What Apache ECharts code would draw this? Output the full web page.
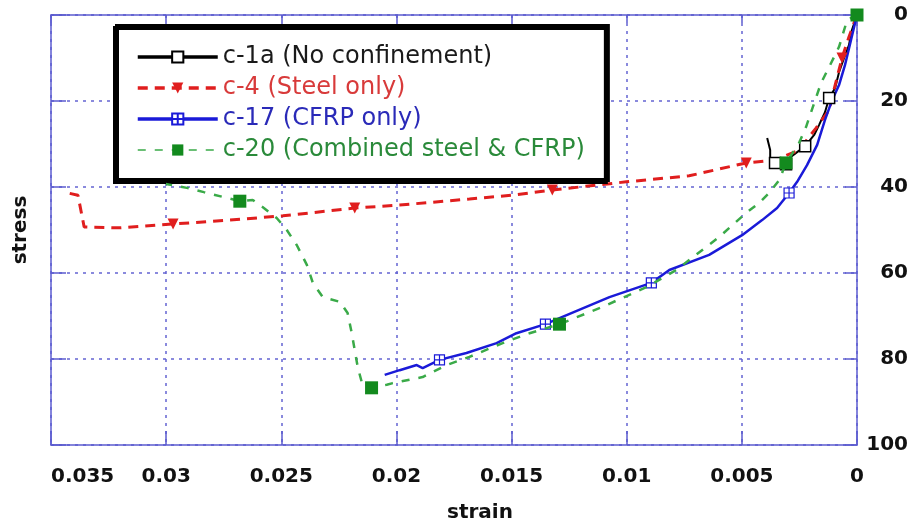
<!DOCTYPE html>
<html>
<head>
    <meta charset="UTF-8">
    <title>stress - strain</title>
    <script src="https://cdn.jsdelivr.net/npm/echarts@6/dist/echarts.min.js"></script>
    <style>
        body { margin: 0; background: #fff; }
        #chart { width: 924px; height: 525px; }
    </style>
</head>
<body>
<div id="chart"></div>
<script>
    // values (strain, stress); marks = indices that carry a symbol
    var c1aStrain = [0, 0.00022, 0.00035, 0.00056, 0.00078, 0.00095, 0.00121, 0.00139, 0.00165, 0.00186, 0.00225, 0.00260, 0.00295, 0.00308, 0.00356, 0.00377, 0.00377, 0.00390];
    var c1aStress = [0, 3.5, 7.0, 10.0, 13.3, 17.0, 19.3, 22.6, 25.6, 27.9, 30.5, 31.9, 33.3, 34.7, 34.4, 33.7, 31.4, 28.6];
    var c1aMarks = [6, 10, 13, 14];

    var c4Strain = [0, 0.00035, 0.00065, 0.00100, 0.00121, 0.00178, 0.00252, 0.00351, 0.00481, 0.00729, 0.01002, 0.01323, 0.01496, 0.01683, 0.01986, 0.02181, 0.02493, 0.02723, 0.02970, 0.03200, 0.03356, 0.03383, 0.03426];
    var c4Stress = [0, 5.1, 10.0, 17.4, 22.1, 26.3, 31.4, 33.7, 34.4, 37.4, 38.8, 40.7, 41.9, 42.8, 44.2, 44.9, 46.7, 47.7, 48.6, 49.5, 49.3, 41.9, 41.4];
    var c4Marks = [2, 8, 11, 15, 18];

    var c17Strain = [0, 0.00026, 0.00052, 0.00078, 0.00108, 0.00139, 0.00173, 0.00217, 0.00260, 0.00295, 0.00347, 0.00412, 0.00499, 0.00642, 0.00815, 0.00893, 0.01075, 0.01279, 0.01353, 0.01479, 0.01565, 0.01696, 0.01813, 0.01886, 0.01912, 0.01986, 0.02051];
    var c17Stress = [0, 5.8, 11.6, 16.3, 19.8, 24.4, 30.2, 34.9, 38.8, 41.4, 44.9, 47.7, 51.2, 55.8, 59.3, 62.3, 65.6, 70.2, 71.9, 74.0, 76.3, 78.6, 80.2, 82.1, 81.4, 82.6, 83.7];
    var c17Marks = [9, 15, 18, 22];

    var c20Strain = [0, 0.00043, 0.00078, 0.00121, 0.00156, 0.00186, 0.00221, 0.00252, 0.00308, 0.00338, 0.00382, 0.00425, 0.00481, 0.00598, 0.00785, 0.00915, 0.01106, 0.01292, 0.01422, 0.01539, 0.01683, 0.01782, 0.01886, 0.02016, 0.02042, 0.02108, 0.02151, 0.02168, 0.02194, 0.02212, 0.02246, 0.02320, 0.02363, 0.02389, 0.02433, 0.02476, 0.02520, 0.02580, 0.02624, 0.02680, 0.02754, 0.02836, 0.02910, 0.03001];
    var c20Stress = [0, 1.2, 7.4, 12.1, 15.8, 20.5, 26.0, 29.8, 34.4, 38.4, 41.4, 43.7, 46.0, 51.6, 59.3, 63.3, 67.9, 71.9, 74.0, 76.3, 79.5, 81.4, 84.2, 85.6, 86.0, 86.7, 85.3, 81.9, 74.0, 69.3, 66.7, 65.6, 62.3, 58.1, 53.5, 50.0, 47.2, 44.7, 43.0, 43.3, 42.3, 41.2, 40.2, 39.3];
    var c20Marks = [0, 8, 17, 25, 39];

    var names = ['c-1a (No confinement)', 'c-4 (Steel only)', 'c-17 (CFRP only)', 'c-20 (Combined steel & CFRP)'];

    function pairs(xs, ys, marks) {
        var out = [];
        for (var i = 0; i < xs.length; i++) {
            if (marks.indexOf(i) >= 0) {
                out.push([xs[i], ys[i]]);
            } else {
                out.push({ value: [xs[i], ys[i]], symbol: 'none' });
            }
        }
        return out;
    }

    var gridBlue = '#6464d2';
    var axisBlue = '#5c5cd0';
    var font = 'DejaVu Sans';

    // plain frame axis, no labels (top and left sides)
    function frameAxis(pos, max, step, tickLen) {
        return {
            type: 'value',
            position: pos,
            min: 0,
            max: max,
            interval: step,
            inverse: true,
            axisLine: { show: true, onZero: false, lineStyle: { color: axisBlue, width: 1.5 } },
            axisTick: { show: true, inside: true, length: tickLen, lineStyle: { color: axisBlue, width: 1.5 } },
            axisLabel: { show: false },
            splitLine: { show: false }
        };
    }

    var leftAxis = frameAxis('left', 100, 20, 15);
    leftAxis.name = 'stress';
    leftAxis.nameLocation = 'middle';
    leftAxis.nameGap = 20;
    leftAxis.nameTextStyle = { fontFamily: font, fontSize: 20, fontWeight: 'bold', color: '#111' };

    var chart = echarts.init(document.getElementById('chart'));
    var option = {
        animation: false,
        grid: { left: 51, right: 67, top: 15, bottom: 80, outerBoundsMode: 'none', containLabel: false },
        legend: {
            orient: 'vertical',
            left: 117,
            top: 26,
            padding: [19, 23, 18, 19],
            itemGap: 7,
            itemWidth: 80,
            itemHeight: 14,
            backgroundColor: '#fff',
            borderColor: '#000',
            borderWidth: 4,
            shadowColor: '#000',
            shadowOffsetX: -2,
            shadowOffsetY: 2,
            textStyle: { fontFamily: font, fontSize: 24 },
            data: [
                { name: names[0], textStyle: { color: '#1a1a1a' }, lineStyle: { width: 3.5 } },
                { name: names[1], textStyle: { color: '#d83a3a' }, lineStyle: { width: 3.5 } },
                { name: names[2], textStyle: { color: '#2a2ab8' }, lineStyle: { width: 3.5 } },
                { name: names[3], textStyle: { color: '#2a8a3a' }, lineStyle: { width: 1.5 } }
            ]
        },
        xAxis: [{
            type: 'value',
            position: 'bottom',
            min: 0,
            max: 0.035,
            interval: 0.005,
            inverse: true,
            name: 'strain',
            nameLocation: 'middle',
            nameGap: 58,
            nameTextStyle: { fontFamily: font, fontSize: 20, fontWeight: 'bold', color: '#111', padding: [0, 0, 0, 52] },
            axisLine: { onZero: false, lineStyle: { color: axisBlue, width: 1.5 } },
            axisTick: { inside: true, length: 14, lineStyle: { color: axisBlue, width: 1.5 } },
            axisLabel: {
                margin: 22,
                fontFamily: font, fontSize: 20, fontWeight: 'bold', color: '#111',
                alignMaxLabel: 'left',
                formatter: function (v) { return String(+v.toFixed(3)); }
            },
            splitLine: { show: true, lineStyle: { color: gridBlue, type: [3, 5], width: 1.5 } }
        }, frameAxis('top', 0.035, 0.005, 8)],
        yAxis: [{
            type: 'value',
            position: 'right',
            min: 0,
            max: 100,
            interval: 20,
            inverse: true,
            axisLine: { show: true, onZero: false, lineStyle: { color: axisBlue, width: 1.5 } },
            axisTick: { show: true, inside: true, length: 12, lineStyle: { color: axisBlue, width: 1.5 } },
            axisLabel: {
                align: 'right',
                margin: 51,
                fontFamily: font, fontSize: 20, fontWeight: 'bold', color: '#111'
            },
            splitLine: { show: true, lineStyle: { color: gridBlue, type: [3, 5], width: 1.5 } }
        }, leftAxis],
        series: [{
            name: names[0],
            type: 'line',
            data: pairs(c1aStrain, c1aStress, c1aMarks),
            symbol: 'rect',
            symbolSize: 11,
            itemStyle: { color: '#fff', borderColor: '#000', borderWidth: 1.5 },
            lineStyle: { color: '#000', width: 2 },
            z: 3
        }, {
            name: names[1],
            type: 'line',
            data: pairs(c4Strain, c4Stress, c4Marks),
            symbol: 'triangle',
            symbolRotate: 180,
            symbolSize: 11,
            itemStyle: { color: '#e01e1e' },
            lineStyle: { color: '#e01e1e', width: 3, type: [10, 7] },
            z: 3
        }, {
            name: names[2],
            type: 'line',
            data: pairs(c17Strain, c17Stress, c17Marks),
            symbol: 'path://M0,0H10V10H0Z M5,0V10 M0,5H10',
            symbolSize: 10,
            itemStyle: { color: '#fff', borderColor: '#1a1ad8', borderWidth: 1.2 },
            lineStyle: { color: '#1a1ad8', width: 2.5 },
            z: 3
        }, {
            name: names[3],
            type: 'line',
            data: pairs(c20Strain, c20Stress, c20Marks),
            symbol: 'rect',
            symbolSize: 13,
            itemStyle: { color: '#138a1e' },
            lineStyle: { color: '#3aaa48', width: 2.5, type: [8, 9] },
            z: 4
        }]
    };
    chart.setOption(option);
</script>
</body>
</html>
